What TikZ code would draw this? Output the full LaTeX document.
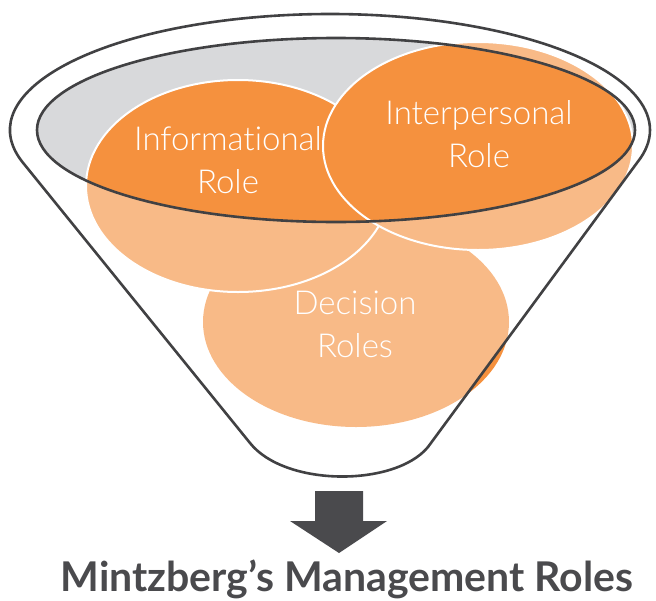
\documentclass[tikz,border=0pt]{standalone}
\usepackage{fontspec}
\setmainfont{Lato}
\newfontfamily\lightfont[Ligatures=NoCommon]{Lato Light}
\definecolor{orangedark}{HTML}{F5913E}
\definecolor{rimgray}{HTML}{D8D9DB}
\definecolor{funnelline}{HTML}{414143}
\definecolor{titlegray}{HTML}{4A4A4D}
\begin{document}
\begin{tikzpicture}[x=1pt,y=1pt,
  funnel/.style={draw=funnelline, line width=2.6pt, line join=round},
  roleshape/.style={fill=orangedark, draw=white, line width=2pt},
  roletext/.style={text=white, align=center, font=\lightfont\fontsize{33}{43}\selectfont}]
\useasboundingbox (0,0) rectangle (656,-600);
% inner rim fill
\fill[rimgray] (336,-130) ellipse [x radius=299, y radius=92];
% role ellipses
\fill[orangedark] (356,-322) ellipse [x radius=153, y radius=105];
\path[roleshape] (238,-186) ellipse [x radius=152, y radius=106];
\path[roleshape] (478,-146) ellipse [x radius=155, y radius=104];
% funnel body lightening
\fill[white, fill opacity=0.38, even odd rule]
  (22.4,-162) arc[start angle=196, end angle=-16, x radius=320, y radius=116]
  -- (428,-447) .. controls (395,-487) and (285,-487) .. (250,-443) -- cycle
  (336,-130) ellipse [x radius=299, y radius=92];
% funnel outlines
\path[funnel]
  (22.4,-162) arc[start angle=196, end angle=-16, x radius=320, y radius=116]
  -- (428,-447) .. controls (395,-487) and (285,-487) .. (250,-443) -- cycle;
\path[funnel] (336,-130) ellipse [x radius=299, y radius=92];
% texts
\node[roletext] (info) at (228,-160) {Informational\\Role};
\node[roletext] (inter) at (479,-134) {Interpersonal\\Role};
\node[roletext] (dec) at (355,-324) {Decision\\Roles};
% arrow
\fill[titlegray] (315,-491) -- (363,-491) -- (363,-521) -- (387,-521) -- (339,-553) -- (290,-521) -- (315,-521) -- cycle;
\node[text=titlegray, font=\bfseries\fontsize{41}{48}\selectfont] (title) at (347,-579) {Mintzberg’s Management Roles};
\end{tikzpicture}
\end{document}
